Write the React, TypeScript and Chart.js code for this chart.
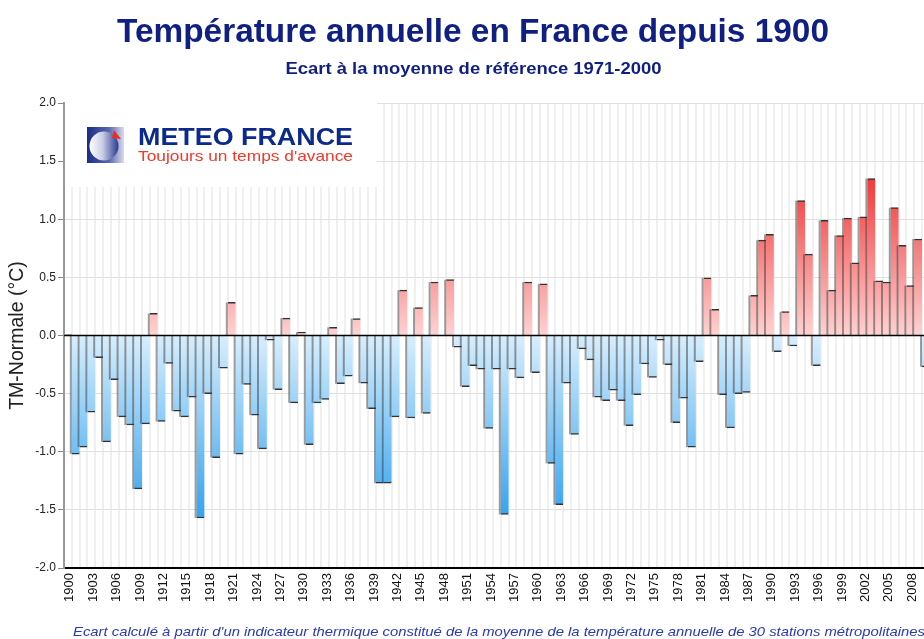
import React, { useEffect, useRef } from "react";
import { Chart, registerables } from "chart.js";

Chart.register(...registerables);

const FIRST_YEAR = 1900;
const LABEL_EVERY = 3;

// Ecart à la moyenne 1971-2000 (°C), 1900 .. 2010
const anomalies: number[] = [
  0.01, -1.02, -0.96, -0.66, -0.19, -0.915, -0.38, -0.7, -0.77, -1.32,
  -0.76, 0.19, -0.74, -0.24, -0.65, -0.7, -0.53, -1.57, -0.5, -1.05,
  -0.28, 0.285, -1.02, -0.42, -0.685, -0.975, -0.04, -0.465, 0.15, -0.58,
  0.03, -0.94, -0.58, -0.55, 0.07, -0.415, -0.35, 0.145, -0.41, -0.63,
  -1.27, -1.27, -0.7, 0.39, -0.71, 0.24, -0.67, 0.46, 0.0, 0.48,
  -0.1, -0.44, -0.26, -0.29, -0.8, -0.29, -1.54, -0.29, -0.365, 0.46,
  -0.32, 0.445, -1.1, -1.456, -0.41, -0.85, -0.115, -0.21, -0.53, -0.56,
  -0.47, -0.56, -0.775, -0.51, -0.245, -0.36, -0.04, -0.25, -0.75, -0.54,
  -0.96, -0.225, 0.497, 0.225, -0.51, -0.795, -0.5, -0.49, 0.345, 0.82,
  0.87, -0.14, 0.205, -0.09, 1.16, 0.7, -0.26, 0.99, 0.39, 0.86,
  1.01, 0.625, 1.02, 1.35, 0.47, 0.46, 1.1, 0.775, 0.43, 0.83,
  -0.27,
];

const years: string[] = anomalies.map((_, i) => String(FIRST_YEAR + i));

const yTicks = { min: -2, max: 2, step: 0.5 };

const TITLE = "Température annuelle en France depuis 1900";
const SUBTITLE = "Ecart à la moyenne de référence 1971-2000";
const Y_TITLE = "TM-Normale (°C)";
const FOOTER =
  "Ecart calculé à partir d'un indicateur thermique constitué de la moyenne de la température annuelle de 30 stations métropolitaines";
const LOGO_NAME = "METEO FRANCE";
const LOGO_SLOGAN = "Toujours un temps d'avance";

const FONT = "'Liberation Sans', Arial, Helvetica, sans-serif";

function fitText(
  ctx: CanvasRenderingContext2D,
  text: string,
  x: number,
  y: number,
  font: string,
  color: string,
  width: number,
  align: "left" | "center" = "left"
) {
  ctx.save();
  ctx.font = font;
  ctx.fillStyle = color;
  ctx.textAlign = "left";
  ctx.textBaseline = "alphabetic";
  const w = ctx.measureText(text).width;
  const s = width / w;
  ctx.translate(x, y);
  ctx.scale(s, 1);
  ctx.fillText(text, align === "center" ? -w / 2 : 0, 0);
  ctx.restore();
}

const decorPlugin = {
  id: "decor",
  beforeDraw(chart: any) {
    const ctx = chart.ctx;
    ctx.save();
    ctx.fillStyle = "#ffffff";
    ctx.fillRect(0, 0, chart.width, chart.height);
    ctx.restore();
  },
  beforeDatasetsDraw(chart: any) {
    const ctx: CanvasRenderingContext2D = chart.ctx;
    const area = chart.chartArea;
    ctx.save();
    // logo box
    ctx.fillStyle = "#ffffff";
    ctx.fillRect(area.left + 1, area.top, 312, 84);
    // icon square
    const sx = 87, sy = 127, sw = 37, sh = 36;
    const g1 = ctx.createLinearGradient(sx, 0, sx + sw, 0);
    g1.addColorStop(0, "#1b2c8a");
    g1.addColorStop(0.6, "#5a68ad");
    g1.addColorStop(1, "#d9ddee");
    ctx.fillStyle = g1;
    ctx.fillRect(sx, sy, sw, sh);
    // circle
    const cx = 104, cy = 146, r = 14.5;
    const g2 = ctx.createLinearGradient(cx - r, 0, cx + r, 0);
    g2.addColorStop(0, "#ffffff");
    g2.addColorStop(0.45, "#c9cde6");
    g2.addColorStop(1, "#2a3990");
    ctx.fillStyle = g2;
    ctx.beginPath();
    ctx.arc(cx, cy, r, 0, Math.PI * 2);
    ctx.fill();
    // red triangle
    ctx.fillStyle = "#ee2a22";
    ctx.beginPath();
    ctx.moveTo(114, 130);
    ctx.lineTo(121, 139);
    ctx.lineTo(112, 138);
    ctx.closePath();
    ctx.fill();
    ctx.restore();
    fitText(ctx, LOGO_NAME, 138, 145, `bold 24px ${FONT}`, "#0b2a8c", 215);
    fitText(ctx, LOGO_SLOGAN, 138, 161, `15px ${FONT}`, "#f2382a", 215);
  },
  afterDatasetsDraw(chart: any) {
    const ctx: CanvasRenderingContext2D = chart.ctx;
    const area = chart.chartArea;
    const meta = chart.getDatasetMeta(0);
    ctx.save();
    ctx.beginPath();
    ctx.rect(area.left, area.top, area.right - area.left, area.bottom - area.top);
    ctx.clip();
    ctx.fillStyle = "rgba(60,60,60,0.5)";
    meta.data.forEach((el: any) => {
      const p = el.getProps(["x", "y", "base", "width"], true);
      const left = p.x - p.width / 2;
      const top = Math.min(p.y, p.base);
      const h = Math.abs(p.base - p.y);
      if (h > 0.5) ctx.fillRect(left - 2, top, 2, h);
    });
    const y0 = chart.scales.y.getPixelForValue(0);
    ctx.strokeStyle = "#000000";
    ctx.lineWidth = 1.5;
    ctx.beginPath();
    ctx.moveTo(area.left, y0);
    ctx.lineTo(area.right, y0);
    ctx.stroke();
    ctx.restore();
  },
  afterDraw(chart: any) {
    const ctx: CanvasRenderingContext2D = chart.ctx;
    fitText(ctx, TITLE, 473, 42, `bold 33px ${FONT}`, "#0f1f82", 712, "center");
    fitText(ctx, SUBTITLE, 473.5, 74, `bold 16px ${FONT}`, "#0f1f82", 376, "center");
    fitText(ctx, FOOTER, 73, 636, `italic 13px ${FONT}`, "#2a3ab0", 852);
  },
};

function barColor(c: any) {
  const chart = c.chart;
  const area = chart.chartArea;
  if (!area) return "#cccccc";
  const ys = chart.scales.y;
  const v = anomalies[c.dataIndex] ?? 0;
  const key = `${area.top}-${area.bottom}`;
  if (!chart.$grad || chart.$grad.key !== key) {
    const ctx = chart.ctx;
    const y0 = ys.getPixelForValue(0);
    const gp = ctx.createLinearGradient(0, y0, 0, ys.getPixelForValue(1.35));
    gp.addColorStop(0, "#ffd2d2");
    gp.addColorStop(1, "#f03a3a");
    const gn = ctx.createLinearGradient(0, y0, 0, ys.getPixelForValue(-1.55));
    gn.addColorStop(0, "#d8eefd");
    gn.addColorStop(1, "#36a4f0");
    chart.$grad = { key, gp, gn };
  }
  return v >= 0 ? chart.$grad.gp : chart.$grad.gn;
}

export default function App() {
  const ref = useRef<HTMLCanvasElement | null>(null);

  useEffect(() => {
    if (!ref.current) return;
    const chart = new Chart(ref.current, {
      type: "bar",
      data: {
        labels: years,
        datasets: [
          {
            data: anomalies,
            backgroundColor: barColor,
            borderColor: "#333333",
            borderWidth: { top: 1.5, bottom: 1.5, left: 0, right: 0 },
            borderSkipped: "start",
            barPercentage: 1,
            categoryPercentage: 1,
          },
        ],
      },
      options: {
        responsive: false,
        animation: false,
        devicePixelRatio: 1,
        layout: { padding: { left: 0, top: 103, right: 10.2, bottom: 0 } },
        plugins: {
          legend: { display: false },
          tooltip: { enabled: false },
          title: { display: false },
        },
        scales: {
          x: {
            afterFit: (s: any) => {
              s.height = 71;
              s.paddingLeft = 0;
              s.paddingRight = 0;
            },
            grid: {
              offset: true,
              color: "#f0f0f0",
              lineWidth: 2,
              drawTicks: false,
            },
            border: { color: "#000000", width: 2 },
            ticks: {
              autoSkip: false,
              minRotation: 90,
              maxRotation: 90,
              padding: 5,
              labelOffset: 2,
              color: "#111111",
              font: { family: FONT, size: 13 },
              callback: (_v: any, i: number) =>
                i % LABEL_EVERY === 0 ? years[i] : "",
            },
          },
          y: {
            min: yTicks.min,
            max: yTicks.max,
            afterFit: (s: any) => {
              s.width = 64;
              s.paddingTop = 0;
              s.paddingBottom = 0;
            },
            grid: {
              color: "#e0e0e0",
              lineWidth: 1,
              tickLength: 6,
              tickColor: "#888888",
            },
            border: { color: "#999999", width: 2 },
            ticks: {
              stepSize: yTicks.step,
              padding: 2,
              color: "#222222",
              font: { family: FONT, size: 12 },
              callback: (v: any) => Number(v).toFixed(1),
            },
            title: {
              display: true,
              text: Y_TITLE,
              color: "#222222",
              font: { family: FONT, size: 19.5 },
              padding: { top: 6, bottom: 0 },
            },
          },
        },
      },
      plugins: [decorPlugin],
    } as any);
    return () => chart.destroy();
  }, []);

  return (
    <div
      style={{
        position: "fixed",
        left: 0,
        top: 0,
        width: 924,
        height: 639,
        overflow: "hidden",
        background: "#ffffff",
      }}
    >
      <canvas
        ref={ref}
        width={940}
        height={639}
        style={{ width: 940, height: 639, display: "block" }}
      />
    </div>
  );
}
